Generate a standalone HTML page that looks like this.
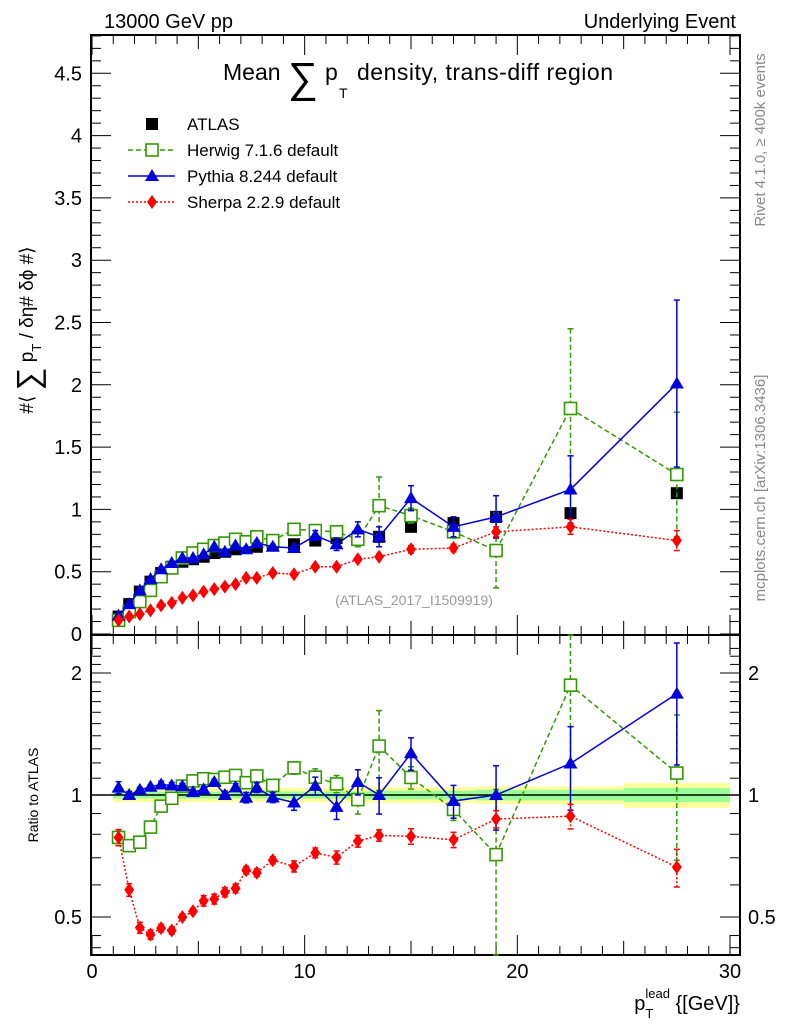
<!DOCTYPE html>
<html><head><meta charset="utf-8"><style>
html,body{margin:0;padding:0;background:#fff;}
svg{display:block;font-family:"Liberation Sans",sans-serif;}
</style></head><body>
<svg id="chart" width="786" height="1024" viewBox="0 0 786 1024" xmlns="http://www.w3.org/2000/svg">
<g id="bands"></g>
<g id="axes"></g>
<g id="series"></g>
<text x="104" y="28" font-size="20">13000 GeV pp</text>
<text x="736" y="28" font-size="20" text-anchor="end">Underlying Event</text>
<g>
<text x="223" y="80" font-size="23">Mean</text>
<text x="288" y="92" font-size="42">∑</text>
<text x="325" y="80" font-size="23">p</text>
<text x="339" y="98" font-size="14">T</text>
<text x="357" y="80" font-size="23" textLength="256">density, trans-diff region</text>
</g>
<g transform="translate(33,330) rotate(-90)">
<text x="0" y="0" font-size="19" text-anchor="middle">#⟨ <tspan font-size="32" dy="6">∑</tspan><tspan dy="-6"> p</tspan><tspan font-size="13" dy="8">T</tspan><tspan dy="-8">  / δη# δϕ #⟩</tspan></text>
</g>
<text transform="translate(38,795) rotate(-90)" font-size="14" text-anchor="middle">Ratio to ATLAS</text>
<text x="740" y="1010" font-size="20" text-anchor="end">p<tspan font-size="13" dy="8">T</tspan><tspan font-size="13" dx="-8" dy="-20">lead</tspan><tspan dy="12"> {[GeV]}</tspan></text>
<text transform="translate(765,140) rotate(-90)" font-size="15" fill="#888" text-anchor="middle">Rivet 4.1.0, ≥ 400k events</text>
<text transform="translate(765,488) rotate(-90)" font-size="15" fill="#888" text-anchor="middle">mcplots.cern.ch [arXiv:1306.3436]</text>
<text x="414" y="605" font-size="14" fill="#999" text-anchor="middle">(ATLAS_2017_I1509919)</text>
<g id="legend"></g>
</svg>
<script>
const xVals=[1.25,1.75,2.25,2.75,3.25,3.75,4.25,4.75,5.25,5.75,6.25,6.75,7.25,7.75,8.5,9.5,10.5,11.5,12.5,13.5,15,17,19,22.5,27.5];
const xLo=[1,1.5,2,2.5,3,3.5,4,4.5,5,5.5,6,6.5,7,7.5,8,9,10,11,12,13,14,16,18,20,25];
const xHi=[1.5,2,2.5,3,3.5,4,4.5,5,5.5,6,6.5,7,7.5,8,9,10,11,12,13,14,16,18,20,25,30];
const atlas=[0.14,0.24,0.34,0.42,0.49,0.54,0.58,0.60,0.62,0.65,0.66,0.68,0.69,0.70,0.71,0.72,0.75,0.77,0.78,0.78,0.86,0.89,0.94,0.97,1.13];
const bandStat=[0.02,0.02,0.02,0.02,0.02,0.02,0.02,0.02,0.02,0.02,0.02,0.02,0.02,0.02,0.02,0.02,0.02,0.02,0.02,0.025,0.025,0.025,0.03,0.03,0.04];
const bandTot=[0.04,0.04,0.04,0.04,0.04,0.04,0.04,0.04,0.04,0.04,0.04,0.04,0.04,0.04,0.04,0.04,0.04,0.04,0.04,0.045,0.045,0.045,0.05,0.05,0.07];
const herwig=[0.11,0.18,0.26,0.35,0.46,0.53,0.61,0.65,0.68,0.71,0.73,0.76,0.74,0.78,0.75,0.84,0.83,0.82,0.76,1.03,0.95,0.82,0.67,1.81,1.28];
const herwigErr=[0.005,0.005,0.005,0.01,0.01,0.01,0.01,0.01,0.015,0.015,0.015,0.02,0.02,0.02,0.02,0.03,0.04,0.04,0.06,0.23,0.06,0.05,0.3,0.64,0.5];
const pythia=[0.146,0.24,0.35,0.44,0.52,0.57,0.61,0.61,0.64,0.70,0.66,0.71,0.68,0.73,0.70,0.69,0.79,0.72,0.84,0.78,1.09,0.86,0.94,1.16,2.01];
const pythiaErr=[0.005,0.005,0.005,0.005,0.01,0.01,0.01,0.01,0.01,0.01,0.015,0.015,0.02,0.02,0.02,0.03,0.04,0.05,0.06,0.08,0.1,0.08,0.17,0.27,0.67];
const sherpa=[0.11,0.14,0.16,0.19,0.23,0.25,0.29,0.31,0.34,0.36,0.38,0.40,0.45,0.45,0.49,0.48,0.54,0.54,0.60,0.62,0.68,0.69,0.82,0.86,0.75];
const sherpaErr=[0.005,0.005,0.005,0.005,0.005,0.005,0.005,0.005,0.01,0.01,0.01,0.01,0.01,0.01,0.01,0.015,0.015,0.02,0.02,0.02,0.03,0.03,0.04,0.06,0.08];
const yTicks=[0,0.5,1,1.5,2,2.5,3,3.5,4,4.5];
const yTickLabels=["0","0.5","1","1.5","2","2.5","3","3.5","4","4.5"];
const xTicks=[0,10,20,30];
const rTicks=[0.5,1,2];

const NS="http://www.w3.org/2000/svg";
const L=91,R=740,T=35,MB=635,RB=955;
const X=v=>92+v*(638/30);
const Y=v=>634-v*124.6;
const YR=r=>795-122*Math.log2(r);
function mk(tag,attrs,parent){const e=document.createElementNS(NS,tag);for(const k in attrs)e.setAttribute(k,attrs[k]);parent.appendChild(e);return e;}
const axes=document.getElementById('axes'),ser=document.getElementById('series'),bands=document.getElementById('bands'),leg=document.getElementById('legend');

for(let i=0;i<xVals.length;i++){
 const a=mk('rect',{x:X(xLo[i]),y:YR(1+bandTot[i]),width:X(xHi[i])-X(xLo[i]),height:YR(1-bandTot[i])-YR(1+bandTot[i]),fill:'#ffff99'},bands);
 
 
 const b=mk('rect',{x:X(xLo[i]),y:YR(1+bandStat[i]),width:X(xHi[i])-X(xLo[i]),height:YR(1-bandStat[i])-YR(1+bandStat[i]),fill:'#99ff99'},bands);
 
 
}
const f1=mk('rect',{x:L,y:T,width:R-L,height:MB-T,fill:'none',stroke:'#000','stroke-width':2},axes);


const f2=mk('rect',{x:L,y:MB,width:R-L,height:RB-MB,fill:'none',stroke:'#000','stroke-width':2},axes);


const one=mk('line',{x1:L,x2:R,y1:YR(1),y2:YR(1),stroke:'#000','stroke-width':1.5},axes);


for(let v=0;v<=4.8;v+=0.1){const y=Y(v);const maj=Math.abs(v*2-Math.round(v*2))<1e-6;const len=maj?20:10;
 mk('line',{x1:L,x2:L+len,y1:y,y2:y,stroke:'#000'},axes);mk('line',{x1:R,x2:R-len,y1:y,y2:y,stroke:'#000'},axes);}
yTicks.forEach((v,i)=>{const t=mk('text',{x:82,y:Y(v)+7,'font-size':20,'text-anchor':'end'},axes);t.textContent=yTickLabels[i];
 
 });
const rm=[0.42,0.45,0.5,0.6,0.7,0.8,0.9,1,1.1,1.2,1.3,1.4,1.5,1.6,1.7,1.8,1.9,2,2.1,2.2,2.3];
rm.forEach(r=>{const y=YR(r);if(y<MB||y>RB)return;const maj=rTicks.includes(r);const len=maj?20:10;
 mk('line',{x1:L,x2:L+len,y1:y,y2:y,stroke:'#000'},axes);mk('line',{x1:R,x2:R-len,y1:y,y2:y,stroke:'#000'},axes);});
rTicks.forEach(r=>{const t=mk('text',{x:82,y:YR(r)+7,'font-size':20,'text-anchor':'end'},axes);t.textContent=String(r);
 
 
 const t2=mk('text',{x:748,y:YR(r)+7,'font-size':20},axes);t2.textContent=String(r);
 
 });
for(let v=0;v<=30;v++){const x=X(v);const len=v%10==0?20:(v%5==0?14:9);
 [[MB,-1],[T,1],[RB,-1],[MB,1]].forEach(([y0,d])=>mk('line',{x1:x,x2:x,y1:y0,y2:y0+d*len,stroke:'#000'},axes));}
xTicks.forEach(v=>{const t=mk('text',{x:X(v),y:978,'font-size':20,'text-anchor':'middle'},axes);t.textContent=String(v);
 
 });

function marker(kind,x,y,color,g){
 if(kind==='sq')mk('rect',{x:x-6,y:y-6,width:12,height:12,fill:'#000'},g);
 else if(kind==='osq')mk('rect',{x:x-6,y:y-6,width:12,height:12,fill:'#fff',stroke:color,'stroke-width':1.6},g);
 else if(kind==='tri')mk('polygon',{points:`${x},${y-7} ${x-7},${y+5} ${x+7},${y+5}`,fill:color},g);
 else mk('polygon',{points:`${x},${y-7} ${x-5},${y} ${x},${y+7} ${x+5},${y}`,fill:color},g);
}
function drawSeries(name,vals,errs,color,dash,kind,ratio){
 const g=mk('g',{},ser);
 
 
 const yf=ratio?((v,i)=>YR(Math.max(0.3,v/atlas[i]))):((v,i)=>Y(v));
 const clipY=y=>Math.max(ratio?MB:T,Math.min(ratio?RB:MB,y));
 if(color!=='#000'){
  const pts=vals.map((v,i)=>X(xVals[i])+','+clipY(yf(v,i))).join(' ');
  mk('polyline',{points:pts,fill:'none',stroke:color,'stroke-width':1.5,'stroke-dasharray':dash},g);
 }
 vals.forEach((v,i)=>{const x=X(xVals[i]);
  if(errs){const y1=clipY(yf(v+errs[i],i)),y2=clipY(yf(Math.max(0.01,v-errs[i]),i));
   mk('line',{x1:x,x2:x,y1:y1,y2:y2,stroke:color,'stroke-width':1.5,'stroke-dasharray':dash},g);
   mk('line',{x1:x-3,x2:x+3,y1:y1,y2:y1,stroke:color,'stroke-width':1.5},g);
   mk('line',{x1:x-3,x2:x+3,y1:y2,y2:y2,stroke:color,'stroke-width':1.5},g);}
  const y=yf(v,i);if(y>=(ratio?MB:T)&&y<=(ratio?RB:MB))marker(kind,x,y,color,g);});
}
drawSeries('atlas',atlas,null,'#000','','sq',false);
drawSeries('herwig',herwig,herwigErr,'#339900','5,3','osq',false);
drawSeries('pythia',pythia,pythiaErr,'#0000dd','','tri',false);
drawSeries('sherpa',sherpa,sherpaErr,'#ff0000','2,2','dia',false);
drawSeries('herwig',herwig,herwigErr,'#339900','5,3','osq',true);
drawSeries('pythia',pythia,pythiaErr,'#0000dd','','tri',true);
drawSeries('sherpa',sherpa,sherpaErr,'#ff0000','2,2','dia',true);

const legItems=[["ATLAS",'#000','','sq'],["Herwig 7.1.6 default",'#339900','5,3','osq'],["Pythia 8.244 default",'#0000dd','','tri'],["Sherpa 2.2.9 default",'#ff0000','2,2','dia']];
legItems.forEach((it,i)=>{const y=124+i*26;const g=mk('g',{},leg);
 
 
 if(i>0)mk('line',{x1:128,x2:175,y1:y,y2:y,stroke:it[1],'stroke-width':1.5,'stroke-dasharray':it[2]},g);
 marker(it[3],152,y,it[1],g);
 const t=mk('text',{x:187,y:y+6,'font-size':17},g);t.textContent=it[0];});
</script>
</body></html>
